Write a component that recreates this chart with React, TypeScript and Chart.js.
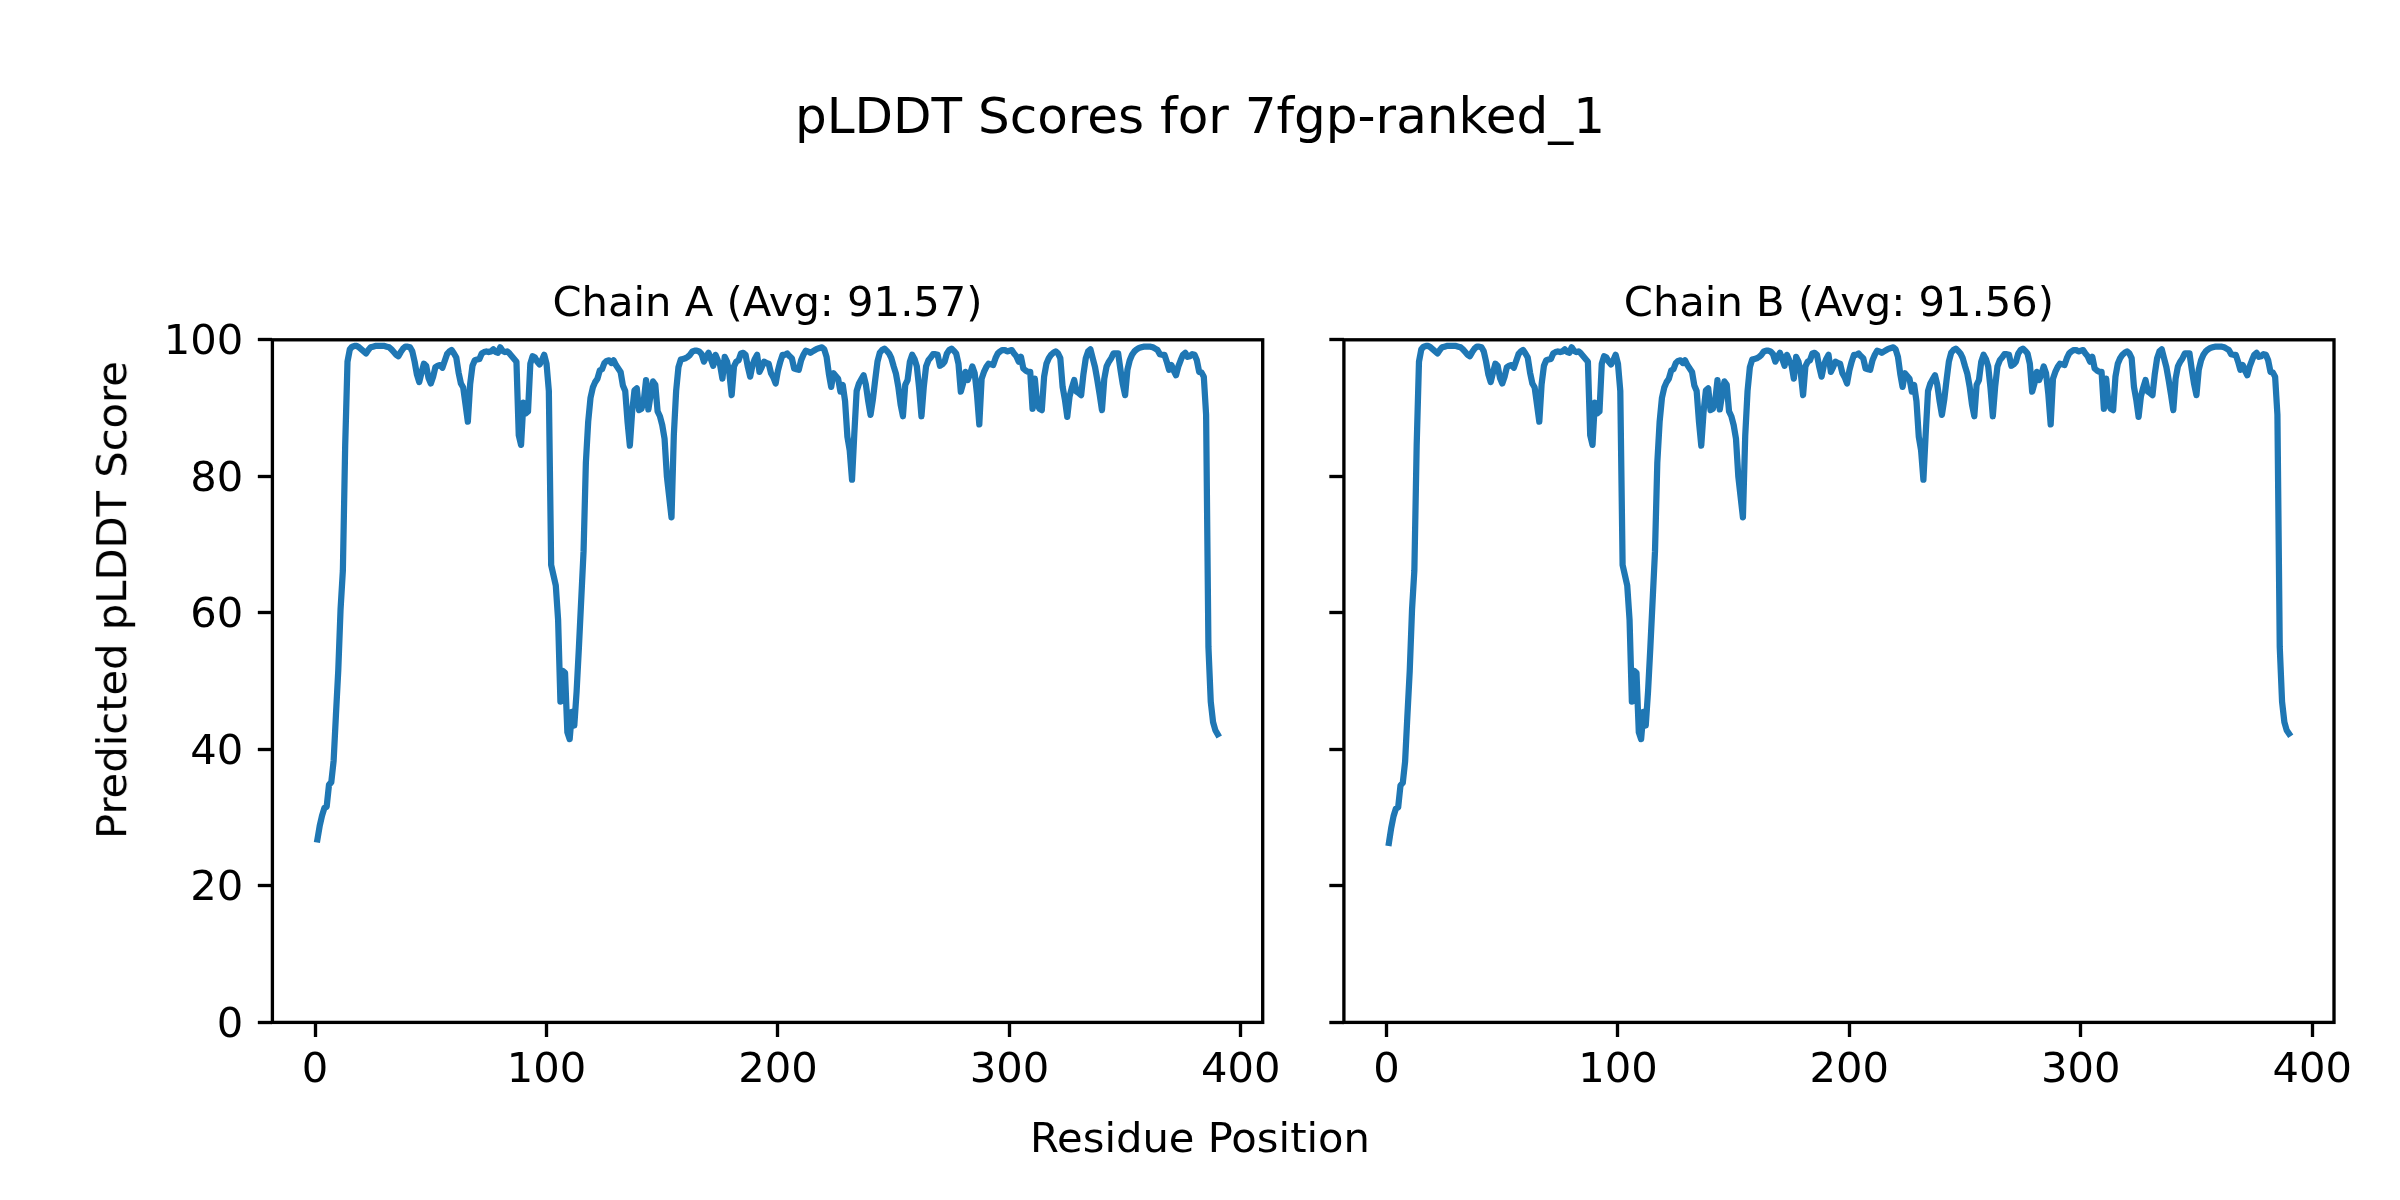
import React, { useEffect, useRef } from "react";
import { Chart, registerables } from "chart.js";

Chart.register(...registerables);

const FONT = "'DejaVu Sans', 'Liberation Sans', sans-serif";

const figureTitle = "pLDDT Scores for 7fgp-ranked_1";
const xAxisLabel = "Residue Position";
const yAxisLabel = "Predicted pLDDT Score";
const chainTitles = ["Chain A (Avg: 91.57)", "Chain B (Avg: 91.56)"];
const xTicks = [0, 100, 200, 300, 400];
const yTicks = [0, 20, 40, 60, 80, 100];
const firstResidue = 1;

const chainA = [
  26.8, 28.8, 30.3, 31.4, 31.6, 34.8, 35.2, 38.3, 45.0, 51.5,
  60.5, 66.2, 84.5, 96.8, 98.6, 99.0, 99.1, 99.1, 98.9, 98.6,
  98.3, 98.0, 98.5, 98.9, 99.0, 99.1, 99.1, 99.1, 99.1, 99.1,
  99.0, 98.9, 98.6, 98.2, 97.8, 97.6, 98.2, 98.7, 99.0, 99.0,
  98.9, 98.3, 96.8, 94.9, 93.8, 95.2, 96.5, 96.2, 94.4, 93.6,
  94.6, 96.0, 96.2, 96.3, 95.9, 96.9, 97.9, 98.3, 98.5, 98.0,
  97.4, 95.2, 93.6, 93.0, 90.5, 88.0, 93.5, 96.2, 97.0, 97.1,
  97.2, 98.0, 98.2, 98.3, 98.2, 98.3, 98.6, 98.2, 98.1, 98.9,
  98.4, 98.2, 98.3, 98.0, 97.6, 97.2, 96.8, 86.0, 84.6, 90.8,
  89.2, 89.5, 96.5, 97.6, 97.4, 96.8, 96.4, 97.0, 97.8, 96.5,
  92.5, 67.0, 65.5, 64.0, 59.0, 47.0, 51.5, 51.2, 42.5, 41.5,
  45.5, 43.5, 48.5, 55.0, 62.0, 69.0, 82.0, 88.0, 91.5, 93.0,
  93.8, 94.3, 95.5, 95.7, 96.6, 96.9, 97.0, 96.6, 97.0, 96.3,
  95.8, 95.3, 93.3, 92.5, 88.0, 84.5, 89.5, 92.6, 92.9, 89.7,
  89.9, 91.0, 94.1, 89.8, 92.0, 93.9, 93.4, 89.5, 88.8, 87.5,
  85.5, 80.0, 77.0, 74.0, 86.0, 92.5, 96.0, 97.1, 97.2, 97.3,
  97.5, 97.8, 98.3, 98.4, 98.4, 98.3, 97.9, 96.8, 97.5, 98.1,
  97.2, 96.2, 97.8, 97.0, 96.3, 94.3, 97.5, 96.8, 95.1, 91.9,
  96.1, 96.8, 97.0, 98.0, 98.1, 97.8, 96.0, 94.6, 96.3, 97.2,
  97.8, 95.3, 96.0, 96.8, 96.6, 96.5, 95.1, 94.5, 93.6, 95.5,
  96.8, 97.8, 97.8, 98.0, 97.6, 97.3, 95.8, 95.7, 95.6, 97.0,
  97.8, 98.4, 98.3, 98.1, 98.3, 98.5, 98.7, 98.8, 98.9, 98.6,
  97.5, 95.0, 93.1, 95.1, 94.7, 94.3, 92.4, 93.4, 91.0, 85.8,
  83.8, 79.5, 86.3, 92.5, 93.6, 94.2, 94.8, 93.4, 91.0, 89.0,
  91.2, 94.1, 96.8, 98.1, 98.5, 98.7, 98.4, 98.0, 97.3, 96.1,
  95.0, 93.1, 90.5, 88.8, 93.4, 94.1, 96.8, 97.8, 97.2, 96.1,
  92.9, 88.8, 93.1, 96.1, 97.0, 97.4, 97.9, 97.9, 97.8, 96.2,
  96.4, 96.8, 98.0, 98.5, 98.7, 98.4, 98.0, 96.5, 92.4, 93.6,
  95.3, 94.1, 95.0, 96.1, 95.1, 92.0, 87.6, 94.3, 95.3, 96.0,
  96.5, 96.4, 96.3, 97.3, 98.0, 98.3, 98.5, 98.5, 98.3, 98.4,
  98.5, 98.0, 97.6, 96.8, 97.5, 95.8, 95.5, 95.3, 95.3, 89.9,
  94.3, 90.5, 89.9, 89.7, 94.6, 96.5, 97.3, 97.8, 98.1, 98.3,
  98.0, 97.3, 93.1, 91.2, 88.7, 91.7, 93.0, 94.1, 92.4, 92.2,
  91.9, 95.0, 97.3, 98.3, 98.6, 97.3, 96.0, 94.1, 92.0, 89.7,
  94.3, 96.1, 96.8, 97.3, 98.0, 98.0, 98.0, 95.6, 93.5, 91.9,
  95.6, 97.0, 97.8, 98.3, 98.6, 98.8, 98.9, 99.0, 99.0, 99.0,
  99.0, 98.9, 98.7, 98.5, 97.9, 97.8, 97.8, 96.8, 95.6, 96.3,
  95.5, 94.8, 96.1, 97.0, 97.8, 98.1, 97.5, 97.6, 97.9, 97.8,
  97.0, 95.3, 95.2, 94.6, 89.0, 55.0, 47.0, 44.0, 42.8, 42.2,
];

const chainB = [
  26.3, 28.5, 30.2, 31.3, 31.5, 34.7, 35.1, 38.2, 45.0, 51.5,
  60.5, 66.2, 84.5, 96.8, 98.6, 99.0, 99.1, 99.1, 98.9, 98.6,
  98.3, 98.0, 98.5, 98.9, 99.0, 99.1, 99.1, 99.1, 99.1, 99.1,
  99.0, 98.9, 98.6, 98.2, 97.8, 97.6, 98.2, 98.7, 99.0, 99.0,
  98.9, 98.3, 96.8, 94.9, 93.8, 95.2, 96.5, 96.2, 94.4, 93.6,
  94.6, 96.0, 96.2, 96.3, 95.9, 96.9, 97.9, 98.3, 98.5, 98.0,
  97.4, 95.2, 93.6, 93.0, 90.5, 88.0, 93.5, 96.2, 97.0, 97.1,
  97.2, 98.0, 98.2, 98.3, 98.2, 98.3, 98.6, 98.2, 98.1, 98.9,
  98.4, 98.2, 98.3, 98.0, 97.6, 97.2, 96.8, 86.0, 84.6, 90.8,
  89.2, 89.5, 96.5, 97.6, 97.4, 96.8, 96.4, 97.0, 97.8, 96.5,
  92.5, 67.0, 65.5, 64.0, 59.0, 47.0, 51.5, 51.2, 42.5, 41.5,
  45.5, 43.5, 48.5, 55.0, 62.0, 69.0, 82.0, 88.0, 91.5, 93.0,
  93.8, 94.3, 95.5, 95.7, 96.6, 96.9, 97.0, 96.6, 97.0, 96.3,
  95.8, 95.3, 93.3, 92.5, 88.0, 84.5, 89.5, 92.6, 92.9, 89.7,
  89.9, 91.0, 94.1, 89.8, 92.0, 93.9, 93.4, 89.5, 88.8, 87.5,
  85.5, 80.0, 77.0, 74.0, 86.0, 92.5, 96.0, 97.1, 97.2, 97.3,
  97.5, 97.8, 98.3, 98.4, 98.4, 98.3, 97.9, 96.8, 97.5, 98.1,
  97.2, 96.2, 97.8, 97.0, 96.3, 94.3, 97.5, 96.8, 95.1, 91.9,
  96.1, 96.8, 97.0, 98.0, 98.1, 97.8, 96.0, 94.6, 96.3, 97.2,
  97.8, 95.3, 96.0, 96.8, 96.6, 96.5, 95.1, 94.5, 93.6, 95.5,
  96.8, 97.8, 97.8, 98.0, 97.6, 97.3, 95.8, 95.7, 95.6, 97.0,
  97.8, 98.4, 98.3, 98.1, 98.3, 98.5, 98.7, 98.8, 98.9, 98.6,
  97.5, 95.0, 93.1, 95.1, 94.7, 94.3, 92.4, 93.4, 91.0, 85.8,
  83.8, 79.5, 86.3, 92.5, 93.6, 94.2, 94.8, 93.4, 91.0, 89.0,
  91.2, 94.1, 96.8, 98.1, 98.5, 98.7, 98.4, 98.0, 97.3, 96.1,
  95.0, 93.1, 90.5, 88.8, 93.4, 94.1, 96.8, 97.8, 97.2, 96.1,
  92.9, 88.8, 93.1, 96.1, 97.0, 97.4, 97.9, 97.9, 97.8, 96.2,
  96.4, 96.8, 98.0, 98.5, 98.7, 98.4, 98.0, 96.5, 92.4, 93.6,
  95.3, 94.1, 95.0, 96.1, 95.1, 92.0, 87.6, 94.3, 95.3, 96.0,
  96.5, 96.4, 96.3, 97.3, 98.0, 98.3, 98.5, 98.5, 98.3, 98.4,
  98.5, 98.0, 97.6, 96.8, 97.5, 95.8, 95.5, 95.3, 95.3, 89.9,
  94.3, 90.5, 89.9, 89.7, 94.6, 96.5, 97.3, 97.8, 98.1, 98.3,
  98.0, 97.3, 93.1, 91.2, 88.7, 91.7, 93.0, 94.1, 92.4, 92.2,
  91.9, 95.0, 97.3, 98.3, 98.6, 97.3, 96.0, 94.1, 92.0, 89.7,
  94.3, 96.1, 96.8, 97.3, 98.0, 98.0, 98.0, 95.6, 93.5, 91.9,
  95.6, 97.0, 97.8, 98.3, 98.6, 98.8, 98.9, 99.0, 99.0, 99.0,
  99.0, 98.9, 98.7, 98.5, 97.9, 97.8, 97.8, 96.8, 95.6, 96.3,
  95.5, 94.8, 96.1, 97.0, 97.8, 98.1, 97.5, 97.6, 97.9, 97.8,
  97.0, 95.3, 95.2, 94.6, 89.0, 55.0, 47.0, 44.0, 42.8, 42.3,
];

const LINE_COLOR = "#1f77b4";
const TICK_PX = 41.67;
const SPINE_W = 3.33;
const TICK_LEN = 14.58;

const framePlugin = {
  id: "frameBox",
  afterDatasetsDraw(chart: any) {
    const { ctx, chartArea: a } = chart;
    ctx.save();
    ctx.strokeStyle = "#000";
    ctx.lineWidth = SPINE_W;
    ctx.strokeRect(a.left, a.top, a.right - a.left, a.bottom - a.top);
    ctx.restore();
  },
};

function makeConfig(values: number[], title: string, yWidth: number, rightPad: number, showYLabels: boolean): any {
  const xMin = firstResidue - 0.05 * (values.length - 1);
  const xMax = firstResidue + (values.length - 1) * 1.05;
  return {
    type: "line",
    data: {
      datasets: [
        {
          data: values.map((v, i) => ({ x: firstResidue + i, y: v })),
          borderColor: LINE_COLOR,
          borderWidth: 6.25,
          pointRadius: 0,
          fill: false,
          tension: 0,
          borderJoinStyle: "round",
          borderCapStyle: "square",
        },
      ],
    },
    options: {
      responsive: false,
      animation: false,
      devicePixelRatio: 1,
      layout: { padding: { left: 0, right: rightPad, top: 0, bottom: 0 } },
      plugins: {
        legend: { display: false },
        tooltip: { enabled: false },
        title: {
          display: true,
          text: title,
          fullSize: false,
          color: "#000",
          font: { family: FONT, size: TICK_PX, weight: "normal", lineHeight: 1.2 },
          padding: { top: 280, bottom: 9.8 },
        },
      },
      scales: {
        x: {
          type: "linear",
          min: xMin,
          max: xMax,
          afterBuildTicks: (s: any) => {
            s.ticks = xTicks.map((v) => ({ value: v }));
          },
          afterFit: (s: any) => {
            s.height = 177.6;
          },
          ticks: {
            color: "#000",
            font: { family: FONT, size: TICK_PX, lineHeight: 1.2 },
            padding: 9,
            maxRotation: 0,
            autoSkip: false,
          },
          grid: {
            display: true,
            drawOnChartArea: false,
            drawTicks: true,
            tickLength: TICK_LEN,
            tickWidth: SPINE_W,
            tickColor: "#000",
          },
          border: { display: false },
        },
        y: {
          type: "linear",
          min: 0,
          max: 100,
          afterBuildTicks: (s: any) => {
            s.ticks = yTicks.map((v) => ({ value: v }));
          },
          afterFit: (s: any) => {
            s.width = yWidth;
          },
          ticks: {
            display: showYLabels,
            color: "#000",
            // second line holds the label; the empty first line nudges it a few px down
            callback: (v: any) => ["", String(v)],
            font: { family: FONT, size: TICK_PX, lineHeight: "7px" },
            padding: TICK_LEN,
          },
          grid: {
            display: true,
            drawOnChartArea: false,
            drawTicks: true,
            tickLength: TICK_LEN,
            tickWidth: SPINE_W,
            tickColor: "#000",
          },
          border: { display: false },
        },
      },
    },
    plugins: [framePlugin],
  };
}

export default function App() {
  const refA = useRef<HTMLCanvasElement | null>(null);
  const refB = useRef<HTMLCanvasElement | null>(null);

  useEffect(() => {
    Chart.defaults.font.family = FONT;
    const a = new Chart(refA.current as HTMLCanvasElement, makeConfig(chainA, chainTitles[0], 272.4, 37.3, true));
    const b = new Chart(refB.current as HTMLCanvasElement, makeConfig(chainB, chainTitles[1], 43.9, 66.0, false));
    return () => {
      a.destroy();
      b.destroy();
    };
  }, []);

  const textBase: React.CSSProperties = {
    position: "absolute",
    fontFamily: FONT,
    color: "#000",
    whiteSpace: "nowrap",
  };

  return (
    <div
      style={{
        position: "absolute",
        left: 0,
        top: 0,
        width: 2400,
        height: 1200,
        background: "#fff",
        overflow: "hidden",
      }}
    >
      <div
        style={{
          ...textBase,
          left: 0,
          width: 2400,
          top: 91,
          fontSize: 50,
          lineHeight: "50px",
          textAlign: "center",
        }}
      >
        {figureTitle}
      </div>
      <canvas
        ref={refA}
        width={1300}
        height={1200}
        style={{ position: "absolute", left: 0, top: 0, width: 1300, height: 1200 }}
      />
      <canvas
        ref={refB}
        width={1100}
        height={1200}
        style={{ position: "absolute", left: 1300, top: 0, width: 1100, height: 1200 }}
      />
      <div
        style={{
          ...textBase,
          left: 0,
          width: 2400,
          top: 1116.5,
          fontSize: TICK_PX,
          lineHeight: TICK_PX + "px",
          textAlign: "center",
        }}
      >
        {xAxisLabel}
      </div>
      <div
        style={{
          ...textBase,
          left: 112,
          top: 600,
          fontSize: TICK_PX,
          lineHeight: TICK_PX + "px",
          transform: "translate(-50%, -50%) rotate(-90deg)",
        }}
      >
        {yAxisLabel}
      </div>
    </div>
  );
}
